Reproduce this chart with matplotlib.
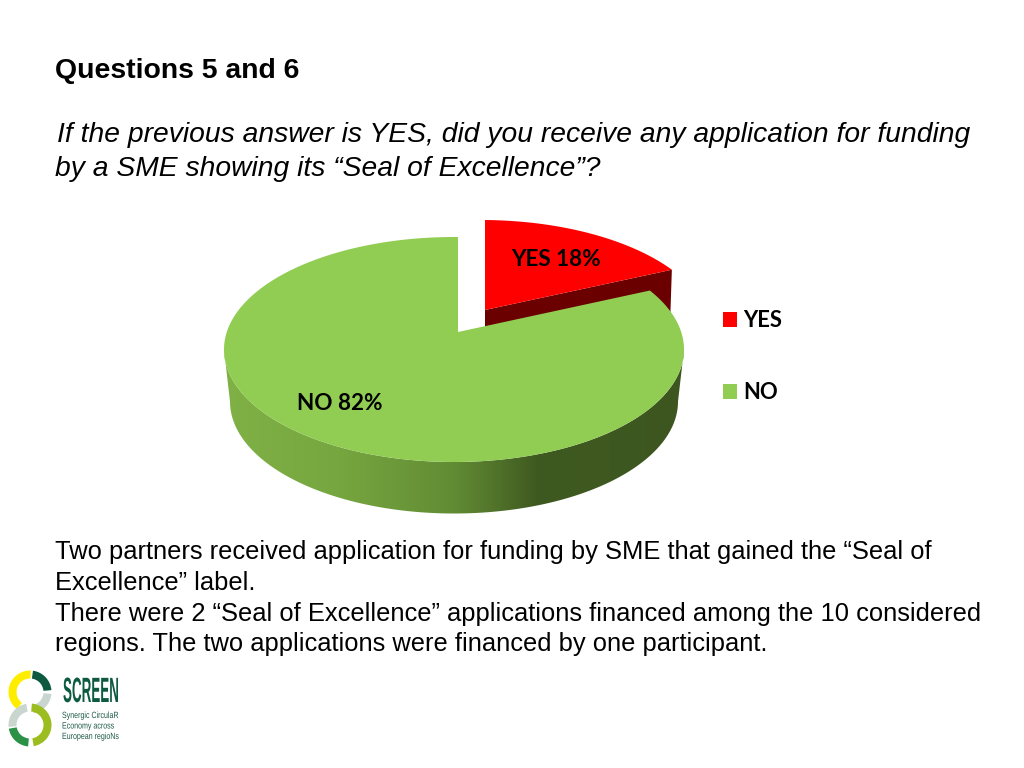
import numpy as np
import matplotlib
matplotlib.use("Agg")
import matplotlib.pyplot as plt
from matplotlib.patches import Polygon, Wedge, Patch
from matplotlib.colors import LinearSegmentedColormap
from matplotlib.patheffects import AbstractPathEffect
from matplotlib.transforms import Affine2D

categories = ["YES", "NO"]
shares = [18, 82]
pie_colors = ["#ff0000", "#90cd52"]
side_red = "#6b0000"
heading = "Questions 5 and 6"
question = ["If the previous answer is YES, did you receive any application for funding",
            "by a SME showing its “Seal of Excellence”?"]
notes = ["Two partners received application for funding by SME that gained the “Seal of",
         "Excellence” label.",
         "There were 2 “Seal of Excellence” applications financed among the 10 considered",
         "regions. The two applications were financed by one participant."]

plt.rcParams['font.family'] = ['Liberation Sans', 'DejaVu Sans']
fig = plt.figure(figsize=(10.24, 7.68), dpi=100)
ax = fig.add_axes([0, 0, 1, 1])
ax.set_axis_off()


def arc(cx, cy, rx, ry, t0, t1, n=200):
    t = np.radians(np.linspace(t0, t1, n))
    return np.column_stack([cx + rx * np.sin(t), cy - ry * np.cos(t)])


CX, CY, RX, RY = 454, 349.5, 230, 112.5
squeeze = 0.85
boundary = 1 + squeeze * 3.6 * shares[0]

# red slice: dark rim, then top face
red_arc = arc(481, 332.5, 230, 112.5, 1, boundary)
apex_r = (485, 310)
ax.add_patch(Polygon([apex_r, red_arc[-1], (670, 325), (485, 345)], fc=side_red, ec="none", zorder=2))
ax.add_patch(Polygon(np.vstack([[apex_r], red_arc]), fc=pie_colors[0], ec="none", zorder=3))

# green side wall with horizontal shading
top_lower = arc(CX, CY, RX, RY, 270, 90)
bot_lower = arc(CX, CY + 52, 224, 112, 90, 270)
wall = Polygon(np.vstack([top_lower, bot_lower]), fc="none", ec="none", transform=ax.transData)
ax.add_patch(wall)
cmap = LinearSegmentedColormap.from_list("wall", [(0, "#80b146"), (0.25, "#76a63f"), (0.5, "#628c34"),
                                                  (0.68, "#3f5a20"), (1, "#3d5620")])
im = ax.imshow(np.linspace(0, 1, 256)[None, :], extent=(224, 684, 514, 349), aspect="auto",
               cmap=cmap, zorder=4, interpolation="bilinear")
im.set_clip_path(wall)

# green top face
apex_g = (458, 332)
green_arc = arc(CX, CY, RX, RY, boundary + 2.3, 361)
ax.add_patch(Polygon(np.vstack([[apex_g], green_arc]), fc=pie_colors[1], ec="none", zorder=5))

ax.set_xlim(0, 1024)
ax.set_ylim(768, 0)

label_font = dict(family="Lato", fontweight="bold", color="black", va="center", ha="center", zorder=6)
ax.text(556, 259, f"{categories[0]} {shares[0]}%", fontsize=16.2, **label_font)
ax.text(340, 404, f"{categories[1]} {shares[1]}%", fontsize=16.2, **label_font)

handles = [Patch(fc=c, ec="none", label=l) for c, l in zip(pie_colors, categories)]
leg = ax.legend(handles=handles, loc="upper left", bbox_to_anchor=(723 / 1024, 1 - 310 / 768), frameon=False,
                prop=dict(family="Lato", weight="bold", size=15.8), handlelength=0.65, handleheight=0.65,
                handletextpad=0.27, labelspacing=2.33, borderpad=0, borderaxespad=0)

ax.text(55, 78, heading, fontsize=20.4, fontweight="bold", color="black", va="baseline")
ax.text(57, 142.5, question[0], fontsize=20.37, style="italic", color="black", va="baseline")
ax.text(55, 176.5, question[1], fontsize=20.37, style="italic", color="black", va="baseline")
for y, line in zip([559, 590, 621, 651], notes):
    ax.text(55, y, line, fontsize=18.4, color="black", va="baseline")


# logo
class Stretch(AbstractPathEffect):
    def __init__(self, sx, sy):
        super().__init__()
        self.sx, self.sy = sx, sy

    def draw_path(self, renderer, gc, tpath, affine, rgbFace=None):
        renderer.draw_path(gc, tpath, Affine2D().scale(self.sx, self.sy) + affine, rgbFace)


rings = [(30, 692, 21.5, 8, [(127, 272, "#ffed00"), (278, 355, "#0e5a41"), (5, 80, "#c9d6cf")]),
         (30, 725, 21.5, 8, [(275, 440, "#9cbd1f"), (95, 170, "#2a9146"), (175, 260, "#c9d6cf")])]
for cx, cy, r, w, segs in rings:
    for a0, a1, c in segs:
        ax.add_patch(Wedge((cx, cy), r, a0, a1, width=w, fc=c, ec="none", zorder=3))

ax.text(63, 702, "SCREEN", fontsize=11.5, fontweight="bold", color="#0e5a41", va="baseline", ha="left",
        path_effects=[Stretch(0.84, 2.2)])
for y, line in zip([718, 728.5, 739], ["Synergic CirculaR", "Economy across", "European regioNs"]):
    ax.text(62, y, line, fontsize=6.2, color="#1d5a45", va="baseline", ha="left", path_effects=[Stretch(0.82, 1.05)])

fig.savefig("out.png", dpi=100)
